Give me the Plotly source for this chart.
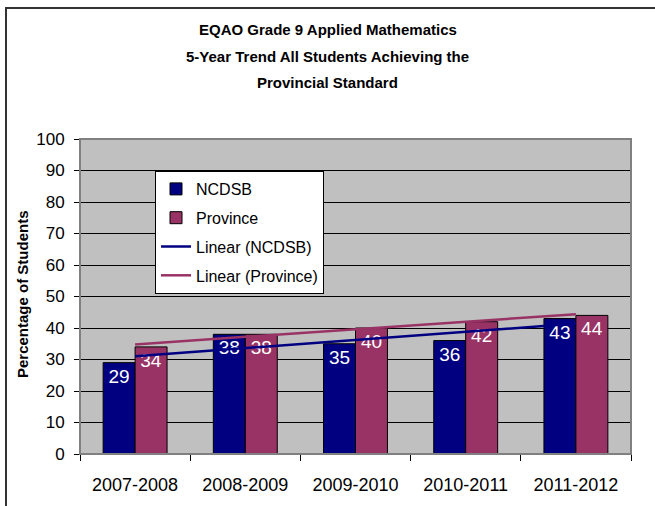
import numpy as np
import plotly.graph_objects as go

categories = ["2007-2008", "2008-2009", "2009-2010", "2010-2011", "2011-2012"]
ncdsb = [29, 38, 35, 36, 43]
province = [34, 38, 40, 42, 44]
title_lines = ["EQAO Grade 9 Applied Mathematics",
               "5-Year Trend All Students Achieving the",
               "Provincial Standard"]
y_ticks = list(range(0, 101, 10))

NAVY = "#000080"
PLUM = "#993366"
FONT = "Liberation Sans, Arial, sans-serif"

idx = np.arange(1, len(categories) + 1)
trend_n = np.polyval(np.polyfit(idx, ncdsb, 1), idx)
trend_p = np.polyval(np.polyfit(idx, province, 1), idx)

fig = go.Figure()
fig.add_trace(go.Bar(
    x=categories, y=ncdsb, name="NCDSB", legendgroup="a",
    marker=dict(color=NAVY, line=dict(color="black", width=1)),
    text=[str(v) for v in ncdsb], textposition="inside", insidetextanchor="end",
    textangle=0, textfont=dict(color="white", size=19, family=FONT),
))
fig.add_trace(go.Bar(
    x=categories, y=province, name="Province", legendgroup="b",
    marker=dict(color=PLUM, line=dict(color="black", width=1)),
    text=[str(v) for v in province], textposition="inside", insidetextanchor="end",
    textangle=0, textfont=dict(color="white", size=19, family=FONT),
))
fig.add_trace(go.Scatter(
    x=categories, y=trend_n, mode="lines", name="Linear (NCDSB)", legendgroup="c",
    line=dict(color=NAVY, width=2.5),
))
fig.add_trace(go.Scatter(
    x=categories, y=trend_p, mode="lines", name="Linear (Province)", legendgroup="d",
    line=dict(color=PLUM, width=2.5),
))

# page coords -> paper coords (plot area spans x 80..631, y 139..454)
def px(x):
    return (x - 80) / 551


def py(y):
    return (454 - y) / 315


annotations = []
for i, line in enumerate(title_lines):
    annotations.append(dict(
        text="<b>%s</b>" % line, xref="paper", yref="paper",
        x=px(327.5), y=py(30 + 26 * i),
        xanchor="center", yanchor="middle", showarrow=False,
        font=dict(family=FONT, size=15, color="black"),
    ))
annotations.append(dict(
    text="<b>Percentage of Students</b>", xref="paper", yref="paper",
    x=px(22), y=py(294), textangle=-90,
    xanchor="center", yanchor="middle", showarrow=False,
    font=dict(family=FONT, size=15, color="black"),
))

fig.update_layout(
    width=655, height=506,
    margin=dict(l=80, r=24, t=139, b=52),
    paper_bgcolor="white", plot_bgcolor="#C0C0C0",
    font=dict(family=FONT, color="black"),
    barmode="group", bargap=0.42, bargroupgap=0,
    showlegend=True,
    legend=dict(
        x=px(155), y=py(171), xanchor="left", yanchor="top",
        bgcolor="white", bordercolor="black", borderwidth=1,
        font=dict(size=16, family=FONT, color="black"),
        tracegroupgap=5, traceorder="grouped",
    ),
    annotations=annotations,
    shapes=[
        dict(type="rect", xref="paper", yref="paper", x0=0, x1=1, y0=0, y1=1,
             line=dict(color="#808080", width=2), layer="above"),
        dict(type="rect", xref="paper", yref="paper",
             x0=px(6), x1=1.3, y0=-0.4, y1=py(8),
             line=dict(color="#333333", width=2), layer="below"),
    ],
)
fig.update_xaxes(
    showline=True, linecolor="black", linewidth=1,
    ticks="outside", tickson="boundaries", ticklen=6, tickcolor="black",
    tickfont=dict(size=18, family=FONT, color="black"), ticklabelstandoff=14,
    showgrid=False,
)
fig.update_yaxes(
    range=[0, 100], tickvals=y_ticks, ticktext=[str(v) for v in y_ticks],
    showline=True, linecolor="black", linewidth=1,
    ticks="outside", ticklen=5, tickcolor="black",
    tickfont=dict(size=17, family=FONT, color="black"), ticklabelstandoff=6,
    showgrid=True, gridcolor="black", gridwidth=1, zeroline=False,
)

fig.write_html("out.html", config={"displayModeBar": False},
               post_script="document.body.style.margin='0';")
